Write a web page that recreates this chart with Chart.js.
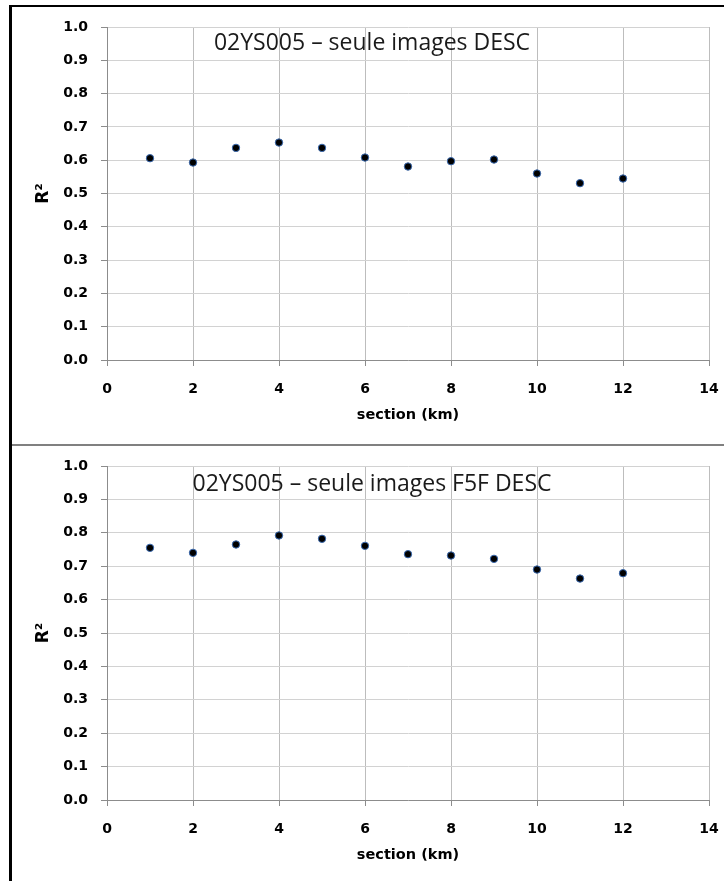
<!DOCTYPE html>
<html>
<head>
<meta charset="utf-8">
<script src="https://cdn.jsdelivr.net/npm/chart.js@4.4.1/dist/chart.umd.min.js"></script>
<style>
  body { margin: 0; background: #fff; }
  #page { position: relative; width: 724px; height: 881px; overflow: hidden; }
  canvas { position: absolute; left: 0; }
  .topLine { position: absolute; left: 10px; top: 5px; width: 714px; height: 2px; background: #000; }
  .leftLine { position: absolute; left: 9px; top: 5px; width: 3px; height: 876px; background: #000; }
  .sepLine { position: absolute; left: 10px; top: 444px; width: 714px; height: 2px; background: #808080; }
</style>
</head>
<body>
<div id="page">
  <canvas id="chartDesc" style="top:0px"></canvas>
  <canvas id="chartF5f" style="top:447px"></canvas>
  <div class="topLine"></div>
  <div class="sepLine"></div>
  <div class="leftLine"></div>
</div>
<script>
const sections = [1, 2, 3, 4, 5, 6, 7, 8, 9, 10, 11, 12];
const r2Desc = [0.606, 0.593, 0.637, 0.653, 0.637, 0.608, 0.581, 0.597, 0.602, 0.560, 0.531, 0.545];
const r2F5fDesc = [0.755, 0.740, 0.765, 0.792, 0.782, 0.761, 0.736, 0.732, 0.722, 0.690, 0.663, 0.679];
const titleDesc = "02YS005 – seule images DESC";
const titleF5f = "02YS005 – seule images F5F DESC";

// draws the title text inside the plot area, like the original
const inPlotTitle = {
  id: 'inPlotTitle',
  afterDraw(chart, args, opts) {
    const { ctx, chartArea } = chart;
    ctx.save();
    ctx.font = '23px "Open Sans"';
    ctx.fillStyle = '#1a1a1a';
    ctx.textAlign = 'center';
    ctx.textBaseline = 'middle';
    ctx.fillText(opts.text, chartArea.left + 265, chartArea.top + opts.dy);
    ctx.restore();
  }
};

const tickFont = { family: 'DejaVu Sans', size: 14, weight: 'bold' };

const makeChart = (id, values, title, height, padTop, padBottom, titleDy) => {
  const canvas = document.getElementById(id);
  canvas.width = 724;
  canvas.height = height;
  canvas.style.width = '724px';
  canvas.style.height = height + 'px';
  return new Chart(canvas.getContext('2d'), {
    type: 'scatter',
    data: {
      datasets: [{
        data: sections.map((s, i) => ({ x: s, y: values[i] })),
        backgroundColor: '#000000',
        borderColor: '#3a6ab0',
        borderWidth: 1,
        pointRadius: 3.7
      }]
    },
    options: {
      responsive: false,
      animation: false,
      devicePixelRatio: 1,
      layout: { padding: { left: 12, right: 15, top: padTop, bottom: padBottom } },
      plugins: {
        legend: { display: false },
        tooltip: { enabled: false },
        inPlotTitle: { text: title, dy: titleDy }
      },
      scales: {
        x: {
          type: 'linear',
          min: 0,
          max: 14,
          afterFit: (scale) => {
            scale.height = 70;
            scale.paddingLeft = 0;
            scale.paddingRight = 0;
          },
          ticks: { stepSize: 2, font: tickFont, color: '#000', padding: 15, maxRotation: 0 },
          grid: { color: '#bdbdbd', tickColor: '#8c8c8c', tickLength: 6 },
          border: { color: '#8c8c8c' },
          title: {
            display: true,
            text: 'section (km)',
            font: { family: 'DejaVu Sans', size: 14.5, weight: 'bold' },
            color: '#000',
            padding: { top: 0, bottom: 6 }
          }
        },
        y: {
          min: 0,
          max: 1,
          afterFit: (scale) => {
            scale.width = 95;
            scale.paddingTop = 0;
            scale.paddingBottom = 0;
          },
          ticks: {
            stepSize: 0.1,
            font: tickFont,
            color: '#000',
            padding: 13,
            callback: (v) => v.toFixed(1)
          },
          grid: { color: '#d2d2d2', tickColor: '#8c8c8c', tickLength: 6 },
          border: { color: '#8c8c8c' },
          title: {
            display: true,
            text: 'R²',
            font: { family: 'DejaVu Sans', size: 17, weight: 'bold' },
            color: '#000',
            padding: { top: 21, bottom: 0 }
          }
        }
      }
    },
    plugins: [inPlotTitle]
  });
};

makeChart('chartDesc', r2Desc, titleDesc, 444, 27, 14, 16);
makeChart('chartF5f', r2F5fDesc, titleF5f, 434, 19, 11, 18);
</script>
</body>
</html>
